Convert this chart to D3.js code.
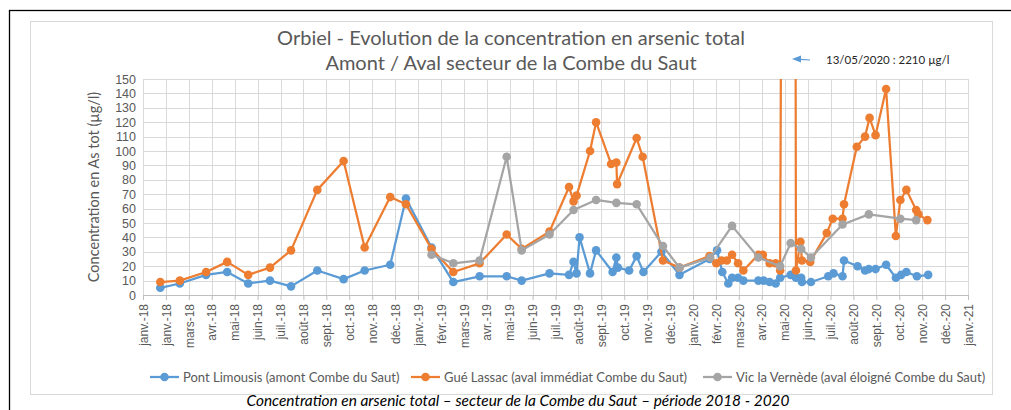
<!DOCTYPE html>
<html>
<head>
<meta charset="utf-8">
<script src="https://cdn.jsdelivr.net/npm/d3@7"></script>
<style>
  body { margin: 0; background: #fff; }
  svg { display: block; font-family: Lato, "Open Sans", sans-serif; }
</style>
</head>
<body>
<svg id="chart" width="1011" height="410"></svg>
<script>
// ---- data ----
const xTickLabels = ['janv.-18', 'janv.-18', 'mars-18', 'avr.-18', 'mai-18', 'juin-18', 'juil.-18', 'août-18',
  'sept.-18', 'oct.-18', 'nov.-18', 'déc.-18', 'janv.-19', 'févr.-19', 'mars-19', 'avr.-19', 'mai-19', 'juin-19',
  'juil.-19', 'août-19', 'sept.-19', 'oct.-19', 'nov.-19', 'déc.-19', 'janv.-20', 'févr.-20', 'mars-20', 'avr.-20',
  'mai-20', 'juin-20', 'juil.-20', 'août-20', 'sept.-20', 'oct.-20', 'nov.-20', 'déc.-20', 'janv.-21'];
const yTicks = [0, 10, 20, 30, 40, 50, 60, 70, 80, 90, 100, 110, 120, 130, 140, 150];

const pontDates = ['2018-01-24', '2018-02-19', '2018-03-26', '2018-04-23', '2018-05-21', '2018-06-19', '2018-07-17',
  '2018-08-21', '2018-09-25', '2018-10-23', '2018-11-26', '2018-12-17', '2019-01-20', '2019-02-18', '2019-03-25',
  '2019-04-30', '2019-05-20', '2019-06-26', '2019-07-22', '2019-07-28', '2019-08-01', '2019-08-05', '2019-08-19',
  '2019-08-27', '2019-09-18', '2019-09-23', '2019-09-25', '2019-10-10', '2019-10-20', '2019-10-29', '2019-11-22',
  '2019-12-16', '2020-01-25', '2020-02-04', '2020-02-11', '2020-02-19', '2020-02-24', '2020-03-03', '2020-03-10',
  '2020-03-30', '2020-04-06', '2020-04-14', '2020-04-22', '2020-04-28', '2020-05-12', '2020-05-19', '2020-05-26',
  '2020-05-27', '2020-06-08', '2020-07-01', '2020-07-08', '2020-07-20', '2020-07-22', '2020-08-09', '2020-08-19',
  '2020-08-24', '2020-09-02', '2020-09-16', '2020-09-29', '2020-10-06', '2020-10-13', '2020-10-27', '2020-11-11'];
const pontValues = [5, 8, 14, 16, 8, 10, 6, 17, 11, 17, 21, 67, 33, 9, 13, 13, 10, 15, 14, 23, 15, 40, 15, 31, 16, 26,
  19, 17, 27, 16, 30, 14, 25, 31, 16, 8, 12, 12, 10, 10, 10, 9, 8, 12, 14, 12, 12, 9, 9, 13, 15, 13, 24, 20, 17, 18,
  18, 21, 12, 14, 16, 13, 14];

const gueDates = ['2018-01-24', '2018-02-19', '2018-03-26', '2018-04-23', '2018-05-21', '2018-06-19', '2018-07-17',
  '2018-08-21', '2018-09-25', '2018-10-23', '2018-11-26', '2018-12-17', '2019-01-20', '2019-02-18', '2019-03-25',
  '2019-04-30', '2019-05-20', '2019-06-26', '2019-07-22', '2019-07-28', '2019-08-01', '2019-08-19', '2019-08-27',
  '2019-09-16', '2019-09-23', '2019-09-24', '2019-10-20', '2019-10-28', '2019-11-24', '2019-12-16', '2020-01-25',
  '2020-02-03', '2020-02-10', '2020-02-17', '2020-02-24', '2020-03-03', '2020-03-10', '2020-03-30', '2020-04-05',
  '2020-04-14', '2020-04-22', '2020-04-28', '2020-05-13', '2020-05-19', '2020-05-25', '2020-05-27', '2020-06-07',
  '2020-06-29', '2020-07-07', '2020-07-20', '2020-07-22', '2020-08-08', '2020-08-19', '2020-08-25', '2020-09-02',
  '2020-09-16', '2020-09-29', '2020-10-05', '2020-10-13', '2020-10-26', '2020-10-29', '2020-11-10'];
const gueValues = [9, 10, 16, 23, 14, 19, 31, 73, 93, 33, 68, 63, 32, 16, 22, 42, 32, 44, 75, 65, 69, 100, 120, 91,
  92, 77, 109, 96, 24, 19, 27, 22, 24, 24, 28, 22, 17, 28, 28, 22, 22, 17, 2210, 17, 37, 24, 23, 43, 53, 53, 63, 103,
  110, 123, 111, 143, 41, 66, 73, 59, 56, 52];

const vicDates = ['2019-01-20', '2019-02-18', '2019-03-25', '2019-04-30', '2019-05-20', '2019-06-26', '2019-07-28',
  '2019-08-27', '2019-09-23', '2019-10-20', '2019-11-24', '2019-12-16', '2020-01-26', '2020-02-24', '2020-03-30',
  '2020-04-28', '2020-05-12', '2020-05-26', '2020-06-08', '2020-07-20', '2020-08-24', '2020-10-05', '2020-10-26'];
const vicValues = [28, 22, 24, 96, 31, 42, 59, 66, 64, 63, 34, 19, 26, 48, 26, 20, 36, 32, 26, 49, 56, 53, 52];

const seriesNames = ['Pont Limousis (amont Combe du Saut)', 'Gué Lassac (aval immédiat Combe du Saut)',
  'Vic la Vernède (aval éloigné Combe du Saut)'];
const seriesColors = ['#5b9bd5', '#ed7d31', '#a5a5a5'];

// ---- layout ----
const svg = d3.select('#chart');
const plot = { left: 143, right: 968, top: 79, bottom: 295 };
const parse = d3.utcParse('%Y-%m-%d');
const start = parse('2018-01-01');
// Excel date axis: major unit ~30.5 days
const tickDates = xTickLabels.map((_, i) => d3.utcHour.offset(start, i * 732));

const x = d3.scaleUtc().domain([start, tickDates[tickDates.length - 1]]).range([plot.left, plot.right]);
const y = d3.scaleLinear().domain([0, 150]).range([plot.bottom, plot.top]);

const series = [
  { dates: pontDates, values: pontValues },
  { dates: gueDates, values: gueValues },
  { dates: vicDates, values: vicValues }
].map((s, i) => ({
  name: seriesNames[i],
  color: seriesColors[i],
  points: s.dates.map((d, j) => ({ date: parse(d), value: s.values[j] }))
}));

// frames
svg.append('rect').attr('x', 9.5).attr('y', 10.5).attr('width', 1010).attr('height', 410)
  .attr('fill', 'none').attr('stroke', '#000').attr('stroke-width', 1.3);
svg.append('rect').attr('x', 30.5).attr('y', 21.5).attr('width', 962).attr('height', 373)
  .attr('fill', '#fff').attr('stroke', '#d9d9d9');

// gridlines
const grid = svg.append('g');
grid.selectAll('.hg').data(yTicks).enter().append('line')
  .attr('x1', plot.left).attr('x2', plot.right)
  .attr('y1', d => Math.round(y(d)) + 0.5).attr('y2', d => Math.round(y(d)) + 0.5)
  .attr('stroke', '#d9d9d9');
grid.selectAll('.vg').data(tickDates).enter().append('line')
  .attr('x1', d => Math.round(x(d)) + 0.5).attr('x2', d => Math.round(x(d)) + 0.5)
  .attr('y1', plot.top).attr('y2', plot.bottom)
  .attr('stroke', '#d9d9d9');

// axes
const yAxis = svg.append('g').attr('transform', `translate(${plot.left},0)`)
  .call(d3.axisLeft(y).tickValues(yTicks).tickSize(0).tickPadding(7));
yAxis.select('.domain').remove();
yAxis.selectAll('text').attr('fill', '#595959').style('font-size', '12.5px');

const xAxis = svg.append('g').attr('transform', `translate(0,${plot.bottom})`)
  .call(d3.axisBottom(x).tickValues(tickDates).tickSize(5).tickFormat((d, i) => xTickLabels[i]));
xAxis.select('.domain').attr('stroke', '#bfbfbf');
xAxis.selectAll('line').attr('stroke', '#bfbfbf');
xAxis.selectAll('text')
  .attr('fill', '#595959').style('font-size', '12px')
  .attr('transform', 'rotate(-90)')
  .attr('text-anchor', 'end')
  .attr('x', -9).attr('y', 0).attr('dy', '0.35em');

// series
svg.append('clipPath').attr('id', 'clip').append('rect')
  .attr('x', plot.left - 10).attr('y', plot.top).attr('width', plot.right - plot.left + 20)
  .attr('height', plot.bottom - plot.top + 10);

const line = d3.line().x(d => x(d.date)).y(d => y(d.value));
const marks = svg.append('g').attr('clip-path', 'url(#clip)');
series.forEach(s => {
  marks.append('path').datum(s.points)
    .attr('d', line).attr('fill', 'none')
    .attr('stroke', s.color).attr('stroke-width', 2.25).attr('stroke-linejoin', 'round');
  marks.selectAll(null).data(s.points.filter(p => p.value <= 150)).enter().append('circle')
    .attr('cx', d => x(d.date)).attr('cy', d => y(d.value)).attr('r', 4.3)
    .attr('fill', s.color);
});

// titles
svg.append('text').attr('x', 511).attr('y', 45).attr('text-anchor', 'middle')
  .attr('fill', '#595959').style('font-size', '20px').text('Orbiel - Evolution de la concentration en arsenic total');
svg.append('text').attr('x', 511).attr('y', 70).attr('text-anchor', 'middle')
  .attr('fill', '#595959').style('font-size', '20px').text('Amont / Aval secteur de la Combe du Saut');

svg.append('text')
  .attr('transform', `translate(99,${(plot.top + plot.bottom) / 2}) rotate(-90)`)
  .attr('text-anchor', 'middle').attr('fill', '#595959').style('font-size', '14.5px')
  .text('Concentration en As tot (µg/l)');

// annotation for the off-scale value
const peak = series[1].points.find(p => p.value > 150);
svg.append('line').attr('x1', 810).attr('y1', 60).attr('x2', 800).attr('y2', 59.4)
  .attr('stroke', '#5b9bd5').attr('stroke-width', 1.2);
svg.append('path').attr('d', 'M792,59 L801,55.5 L801,62.5 Z').attr('fill', '#5b9bd5');
svg.append('text').attr('x', 826).attr('y', 64).attr('fill', '#262626').style('font-size', '11.5px')
  .text(`${d3.utcFormat('%d/%m/%Y')(peak.date)} : ${peak.value} µg/l`);

// legend
const legendX = [150, 411, 703];
const legend = svg.append('g');
series.forEach((s, i) => {
  const g = legend.append('g').attr('transform', `translate(${legendX[i]},377)`);
  g.append('line').attr('x1', 0).attr('x2', 29).attr('stroke', s.color).attr('stroke-width', 2.25);
  g.append('circle').attr('cx', 14.5).attr('r', 4.3).attr('fill', s.color);
  g.append('text').attr('x', 33).attr('dy', '0.35em').attr('fill', '#595959').style('font-size', '13px').text(s.name);
});

// caption
svg.append('text').attr('x', 518).attr('y', 406).attr('text-anchor', 'middle')
  .attr('fill', '#000').style('font-size', '14.5px').style('font-style', 'italic')
  .attr('textLength', 543).attr('lengthAdjust', 'spacingAndGlyphs')
  .text('Concentration en arsenic total – secteur de la Combe du Saut – période 2018 - 2020');
</script>
</body>
</html>
